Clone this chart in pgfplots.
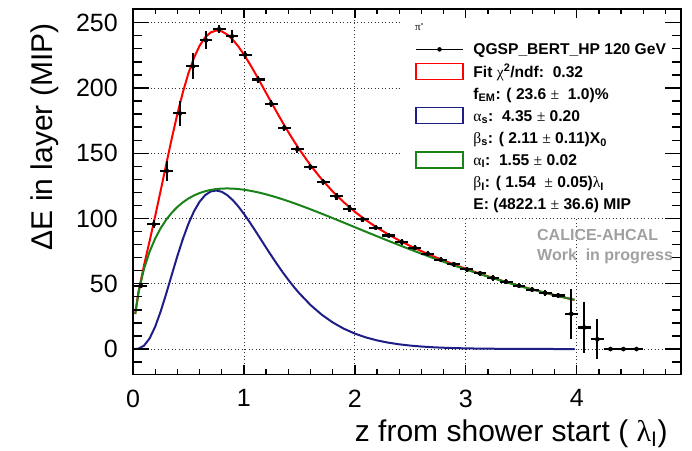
\documentclass[border=0pt]{standalone}
\usepackage{pgfplots}
\pgfplotsset{compat=1.18}
\usepackage{pgfplotstable}
\usepackage{fontspec}
\setmainfont{Liberation Sans}
\newfontfamily\grk{Liberation Serif}
\definecolor{rootblue}{RGB}{30,30,135}
\definecolor{rootgreen}{RGB}{25,130,25}
\definecolor{wip}{RGB}{160,160,160}

\pgfplotstableread{
x y ex ey
0.070 48.5 0.058 2
0.188 95.5 0.058 3
0.305 136.5 0.058 7.5
0.423 180.5 0.058 9.5
0.540 216.5 0.058 10
0.658 236.5 0.058 7
0.776 245.0 0.058 3
0.893 239.5 0.058 5
1.011 225.5 0.058 3
1.128 206.5 0.058 3
1.246 188.0 0.058 2.5
1.364 169.5 0.058 2.5
1.481 153.0 0.058 2.5
1.599 139.5 0.058 2.5
1.716 128.0 0.058 2.5
1.834 117.0 0.058 2.5
1.952 107.5 0.058 2.5
2.069 99.5 0.058 2
2.187 93.0 0.058 2
2.304 87.0 0.058 2
2.422 82.0 0.058 2
2.540 77.5 0.058 2
2.657 73.0 0.058 2
2.775 68.5 0.058 2
2.892 65.0 0.058 2
3.010 61.0 0.058 2
3.128 58.0 0.058 2
3.245 54.5 0.058 2
3.363 51.5 0.058 2
3.480 48.5 0.058 2
3.598 45.5 0.058 2
3.716 43.0 0.058 2
3.833 41.0 0.058 2
3.951 27.0 0.058 19
4.068 16.5 0.058 19.5
4.186 7.5 0.058 15.5
4.304 0 0.058 0
4.421 0 0.058 0
4.539 0 0.058 0
}\datatab

\pgfplotstableread{
x y
0.02 26.82
0.05 43.86
0.10 64.35
0.15 82.84
0.20 101.82
0.25 121.60
0.30 141.74
0.35 161.51
0.40 180.11
0.45 196.86
0.50 211.36
0.55 223.20
0.60 232.34
0.65 238.72
0.70 242.56
0.75 244.00
0.80 243.40
0.85 240.91
0.90 236.93
0.95 231.75
1.00 225.62
1.05 218.78
1.10 211.47
1.15 203.88
1.20 196.17
1.25 188.45
1.30 180.86
1.35 173.43
1.40 166.29
1.45 159.42
1.50 152.87
1.60 140.81
1.70 130.12
1.80 120.71
1.90 112.44
2.00 105.16
2.10 98.73
2.20 93.02
2.30 87.87
2.40 83.20
2.50 78.92
2.60 74.96
2.70 71.28
2.80 67.82
2.90 64.56
3.00 61.47
3.10 58.53
3.20 55.72
3.30 53.04
3.40 50.48
3.50 48.04
3.60 45.69
3.70 43.45
3.80 41.31
3.90 39.27
3.98 37.69
}\redtab

\pgfplotstableread{
x y
0.00 0.00
0.02 0.02
0.05 0.32
0.10 2.64
0.15 8.19
0.20 17.16
0.25 28.94
0.30 42.58
0.35 57.02
0.40 71.25
0.45 84.44
0.50 96.02
0.55 105.55
0.60 112.85
0.65 117.85
0.70 120.68
0.75 121.45
0.80 120.47
0.85 117.88
0.90 114.03
0.95 109.18
1.00 103.57
1.05 97.42
1.10 90.94
1.15 84.31
1.20 77.68
1.25 71.14
1.30 64.82
1.35 58.74
1.40 53.02
1.45 47.63
1.50 42.62
1.60 33.76
1.70 26.40
1.80 20.40
1.90 15.60
2.00 11.82
2.10 8.88
2.20 6.63
2.30 4.91
2.40 3.61
2.50 2.64
2.60 1.92
2.70 1.39
2.80 1.00
2.90 0.72
3.00 0.52
3.10 0.37
3.20 0.26
3.40 0.13
3.60 0.06
3.80 0.03
3.98 0.02
}\bluetab

\pgfplotstableread{
x y
0.02 26.82
0.05 43.54
0.10 61.71
0.15 74.65
0.20 84.66
0.25 92.66
0.30 99.16
0.35 104.49
0.40 108.86
0.45 112.42
0.50 115.34
0.55 117.65
0.60 119.49
0.65 120.87
0.70 121.88
0.75 122.55
0.80 122.93
0.85 123.03
0.90 122.90
0.95 122.57
1.00 122.05
1.05 121.36
1.10 120.53
1.15 119.57
1.20 118.49
1.25 117.31
1.30 116.04
1.35 114.69
1.40 113.27
1.45 111.79
1.50 110.25
1.60 107.05
1.70 103.72
1.80 100.31
1.90 96.84
2.00 93.34
2.10 89.85
2.20 86.39
2.30 82.96
2.40 79.59
2.50 76.28
2.60 73.04
2.70 69.89
2.80 66.82
2.90 63.84
3.00 60.95
3.10 58.16
3.20 55.46
3.30 52.86
3.40 50.35
3.50 47.95
3.60 45.63
3.70 43.41
3.80 41.28
3.90 39.25
3.98 37.67
}\greentab

\begin{document}
\begin{tikzpicture}
\path (0,0) rectangle (692bp,450bp);
\begin{axis}[
  name=ax,
  at={(133bp,75.5bp)}, anchor=south west,
  scale only axis, width=548bp, height=365.5bp,
  xmin=0, xmax=4.94, ymin=-19.5, ymax=260.5,
  xtick={0,1,2,3,4}, ytick={0,50,100,150,200,250},
  minor x tick num=4, minor y tick num=4,
  tick align=inside,
  major tick length=0pt, minor tick length=0pt,
  grid=major,
  major grid style={black!80, line width=0.8bp, dash pattern=on 1bp off 2.5bp},
  axis line style={black, line width=1.8bp},
  /pgf/number format/assume math mode=true,
  tick label style={font=\fontsize{25bp}{30bp}\selectfont},
  yticklabel style={anchor=east, inner sep=0pt, xshift=-15bp},
  xticklabel style={anchor=north, inner sep=0pt, yshift=-15bp},
  every axis y label/.style={at={(axis description cs:-0.1478,0.97)}, rotate=90, anchor=base east, font=\fontsize{30bp}{36bp}\selectfont},
  every axis x label/.style={at={(axis description cs:0.9818,-0.182)}, anchor=base east, font=\fontsize{30bp}{36bp}\selectfont},
  xlabel={z from shower start ( {\grk λ}\textsubscript{I})},
  ylabel={ΔE in layer (MIP)},
  legend style={at={(axis description cs:0.4927,0.989)}, anchor=north west,
    draw=none, fill=white, inner xsep=12bp, inner ysep=3bp,
    row sep=0pt, column sep=9.7bp,
    font=\fontsize{15.6bp}{18bp}\selectfont\bfseries,
    nodes={inner sep=0pt, text height=16.6bp, text depth=5.5bp}},
  legend cell align=left,
]
\addplot[red, line width=2bp, forget plot] table[x=x,y=y] {\redtab};
\addplot[rootblue, line width=2bp, forget plot] table[x=x,y=y] {\bluetab};
\addplot[rootgreen, line width=2bp, forget plot] table[x=x,y=y] {\greentab};
\addplot[black, only marks, mark=*, mark size=2.1bp, forget plot,
  error bars/.cd, x dir=both, x explicit, y dir=both, y explicit,
  error mark=none, error bar style={line width=2.1bp, black}]
  table[x=x, y=y, x error=ex, y error=ey] {\datatab};

\addlegendimage{legend image code/.code={\node[anchor=base west, inner sep=0pt, text height=, text depth=, font=\fontsize{11bp}{13bp}\selectfont\bfseries] at (-1bp,-3.5bp) {{\grk\mdseries π}\textsuperscript{-}};}}
\addlegendentry{}
\addlegendimage{legend image code/.code={\draw[black, line width=1.5bp] (0bp,0bp) -- (47bp,0bp); \fill[black] (23.5bp,0bp) circle[radius=2bp];}}
\addlegendentry{QGSP\_BERT\_HP 120 GeV}
\addlegendimage{legend image code/.code={\draw[red, line width=1.3bp, fill=white] (0bp,-8bp) rectangle (47bp,8bp);}}
\addlegendentry{Fit {\grk\mdseries χ}\textsuperscript{2}/ndf:~~0.32}
\addlegendimage{empty legend}
\addlegendentry{f\textsubscript{EM}: ( 23.6 {\grk\mdseries ±}~~1.0)\%}
\addlegendimage{legend image code/.code={\draw[rootblue, line width=1.3bp, fill=white] (0bp,-8bp) rectangle (47bp,8bp);}}
\addlegendentry{{\grk\mdseries α}\textsubscript{s}:~~4.35 {\grk\mdseries ±} 0.20}
\addlegendimage{empty legend}
\addlegendentry{{\grk\mdseries β}\textsubscript{s}: ( 2.11 {\grk\mdseries ±} 0.11)X\textsubscript{0}}
\addlegendimage{legend image code/.code={\draw[rootgreen, line width=1.3bp, fill=white] (0bp,-8bp) rectangle (47bp,8bp);}}
\addlegendentry{{\grk\mdseries α}\textsubscript{I}:~~1.55 {\grk\mdseries ±} 0.02}
\addlegendimage{empty legend}
\addlegendentry{{\grk\mdseries β}\textsubscript{I}: ( 1.54 ~{\grk\mdseries ±} 0.05){\grk\mdseries λ}\textsubscript{I}}
\addlegendimage{empty legend}
\addlegendentry{E: (4822.1 {\grk\mdseries ±} 36.6) MIP}

\node[anchor=north west, inner sep=0pt, align=left, text=wip,
  font=\fontsize{16bp}{20bp}\selectfont\bfseries]
  at (axis description cs:0.7372,0.398) {CALICE-AHCAL\\Work~ in progress};
\end{axis}
% frame and ticks drawn explicitly round the axis box
\begin{scope}[shift={(ax.south west)}, black, line width=1.3bp]
\foreach \k in {1,...,24}{
  \pgfmathsetmacro{\xp}{22.186*\k}
  \pgfmathsetmacro{\len}{mod(\k,5)==0 ? 9.5 : 5}
  \draw (\xp bp,0bp) -- ++(0bp,\len bp);
  \draw (\xp bp,365.5bp) -- ++(0bp,-\len bp);
}
\foreach \y in {-10,0,...,260}{
  \pgfmathsetmacro{\yp}{(\y+19.5)*1.30536}
  \pgfmathsetmacro{\len}{mod(\y,50)==0 ? 16 : 9}
  \draw (0bp,\yp bp) -- ++(\len bp,0bp);
  \draw (548bp,\yp bp) -- ++(-\len bp,0bp);
}
\draw[line width=1.8bp] (0bp,0bp) rectangle (548bp,365.5bp);
\end{scope}
\end{tikzpicture}
\end{document}
